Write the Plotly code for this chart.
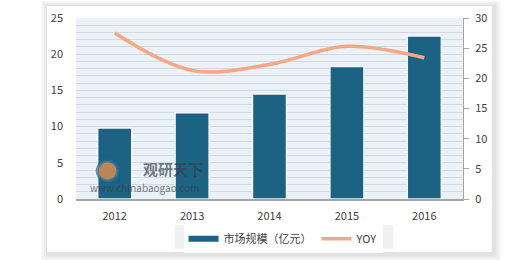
import plotly.graph_objects as go

years = ["2012", "2013", "2014", "2015", "2016"]
market_size = [9.8, 11.9, 14.5, 18.3, 22.5]
yoy = [27.5, 21.3, 22.3, 25.3, 23.4]

BAR = "#1B6283"
LINE = "#F5A882"
FONT = "Noto Sans CJK SC"
TXT = "#404040"

fig = go.Figure()
fig.add_trace(go.Bar(
    x=years, y=market_size, name="市场规模（亿元）",
    marker=dict(color=BAR, line=dict(color="#F4F6F8", width=1.5)),
    width=0.44, yaxis="y", showlegend=False,
))
fig.add_trace(go.Scatter(
    x=[None], y=[None], mode="lines", name="市场规模（亿元）",
    line=dict(color=BAR, width=6), yaxis="y",
))
fig.add_trace(go.Scatter(
    x=years, y=yoy, name="YOY", mode="lines",
    line=dict(color=LINE, width=3.5, shape="spline", smoothing=1.0),
    yaxis="y2",
))

shapes = []
for i, c in enumerate(["#F4F4F4", "#EBEBEB", "#E2E2E2"]):
    d = (3 - i) * 0.006
    shapes.append(dict(type="rect", xref="paper", yref="paper",
                       x0=-0.075 - d + 0.004, x1=1.075 + d + 0.004,
                       y0=-0.293 - d * 2 - 0.01, y1=1.066 + d * 1.5,
                       fillcolor=c, line=dict(width=0), layer="below"))
shapes.append(dict(type="rect", xref="paper", yref="paper",
                   x0=-0.075, x1=1.075, y0=-0.293, y1=1.066,
                   fillcolor="white", line=dict(width=0), layer="below"))
shapes.append(dict(type="rect", xref="paper", yref="paper",
                   x0=0, x1=1, y0=0, y1=1,
                   fillcolor="#EAF1F7", line=dict(width=0), layer="below"))
shapes.append(dict(type="rect", xref="paper", yref="paper",
                   x0=0.255, x1=0.82, y0=-0.275, y1=-0.145,
                   fillcolor="#F0F0F0", line=dict(width=0), layer="below"))
shapes.append(dict(type="circle", xref="paper", yref="paper",
                   x0=0.055, x1=0.108, y0=0.10, y1=0.21,
                   fillcolor="rgba(240,150,70,0.75)", line=dict(color="rgba(40,110,160,0.7)", width=3)))

fig.update_layout(
    width=520, height=260,
    margin=dict(l=76, r=57, t=18, b=61, autoexpand=False),
    paper_bgcolor="white", plot_bgcolor="rgba(0,0,0,0)",
    font=dict(family=FONT, size=11, color=TXT),
    shapes=shapes,
    showlegend=True,
    legend=dict(orientation="h", x=0.535, xanchor="center", y=-0.14, yanchor="top",
                bgcolor="white", font=dict(size=11, color=TXT),
                itemwidth=30, traceorder="normal"),
    xaxis=dict(showgrid=False, showline=True, linecolor="#A6A6A6", linewidth=1.5,
               ticks="", tickfont=dict(size=11, color=TXT), ticklabelstandoff=6,
               fixedrange=True),
    yaxis=dict(range=[0, 25], dtick=5, showline=False, zeroline=False,
               showgrid=True, gridcolor="#D3D9DF", gridwidth=1,
               minor=dict(dtick=1, showgrid=True, gridcolor="#D3D9DF", gridwidth=1),
               ticks="", tickfont=dict(size=11, color=TXT), ticklabelstandoff=12),
    yaxis2=dict(range=[0, 30], dtick=5, overlaying="y", side="right",
                showgrid=False, zeroline=False, showline=True, linecolor="#A6A6A6",
                linewidth=1, ticks="outside", ticklen=5, tickcolor="#A6A6A6",
                tickfont=dict(size=11, color=TXT), ticklabelstandoff=4),
)

fig.add_annotation(xref="paper", yref="paper", x=0.25, y=0.17, text="<b>观研天下</b>",
                   xanchor="center", yanchor="middle",
                   showarrow=False, font=dict(size=15, color="rgba(55,65,75,0.7)"))
fig.add_annotation(xref="paper", yref="paper", x=0.178, y=0.062, text="www.chinabaogao.com",
                   xanchor="center", yanchor="middle",
                   showarrow=False, font=dict(size=10, color="rgba(55,65,75,0.7)"))

fig.write_html("out.html")
